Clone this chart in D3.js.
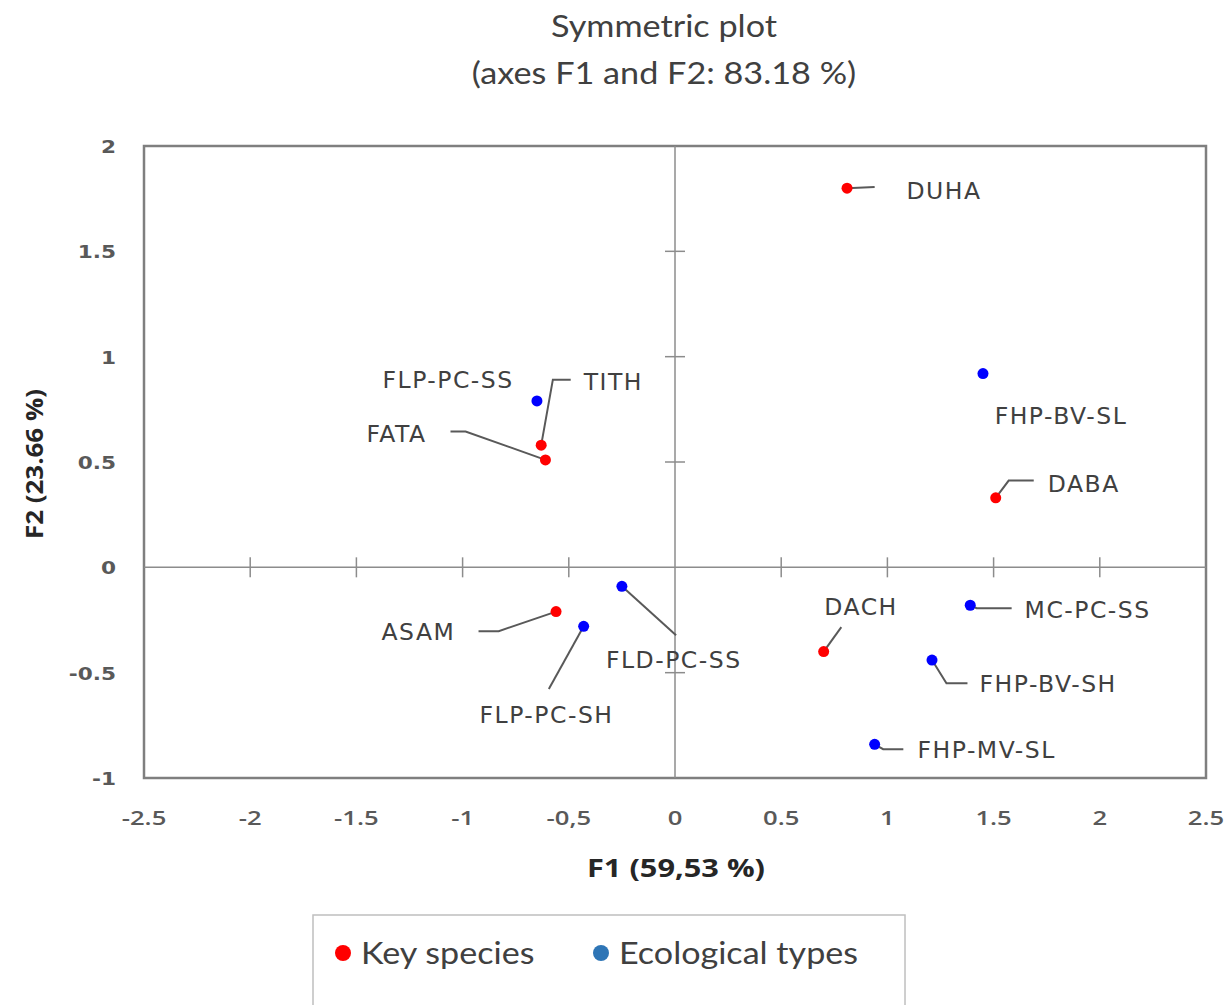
<!DOCTYPE html>
<html><head><meta charset="utf-8">
<script src="https://cdn.jsdelivr.net/npm/d3@7"></script>
<style>body{margin:0;background:#fff}svg{display:block}</style>
</head><body>
<script>
// ---- data ----
const names  = ["DUHA","DABA","TITH","FATA","ASAM","DACH","FHP-BV-SL","FLP-PC-SS","FLD-PC-SS","FLP-PC-SH","MC-PC-SS","FHP-BV-SH","FHP-MV-SL"];
const groups = ["Key species","Key species","Key species","Key species","Key species","Key species","Ecological types","Ecological types","Ecological types","Ecological types","Ecological types","Ecological types","Ecological types"];
const f1 = [0.81, 1.51, -0.63, -0.61, -0.56, 0.70, 1.45, -0.65, -0.25, -0.43, 1.39, 1.21, 0.94];
const f2 = [1.80, 0.33, 0.58, 0.51, -0.21, -0.40, 0.92, 0.79, -0.09, -0.28, -0.18, -0.44, -0.84];
const xTicks = [-2.5,-2,-1.5,-1,-0.5,0,0.5,1,1.5,2,2.5];
const xTickLabels = ["-2.5","-2","-1.5","-1","-0,5","0","0.5","1","1.5","2","2.5"];
const yTicks = [-1,-0.5,0,0.5,1,1.5,2];
const yTickLabels = ["-1","-0.5","0","0.5","1","1.5","2"];
const legendLabels = ["Key species","Ecological types"];
const legendColors = ["#ff0000","#2e75b6"];
const titleLines = ["Symmetric plot","(axes F1 and F2: 83.18 %)"];
const xTitle = "F1 (59,53 %)";
const yTitle = "F2 (23.66 %)";

// ---- label layout (data units): text anchor and leader bend points ----
const labelPos = {
  "DUHA":[1.09,1.79], "DABA":[1.755,0.40], "TITH":[-0.43,0.88], "FATA":[-1.453,0.635],
  "ASAM":[-1.382,-0.303], "DACH":[0.703,-0.185], "FHP-BV-SL":[1.505,0.72], "FLP-PC-SS":[-1.377,0.891],
  "FLD-PC-SS":[-0.325,-0.436], "FLP-PC-SH":[-0.92,-0.70], "MC-PC-SS":[1.646,-0.199],
  "FHP-BV-SH":[1.434,-0.55], "FHP-MV-SL":[1.142,-0.863]
};
const leaders = {
  "DUHA":[[0.94,1.805]],
  "DABA":[[1.571,0.412],[1.689,0.412]],
  "TITH":[[-0.575,0.891],[-0.491,0.891]],
  "FATA":[[-0.986,0.645],[-1.057,0.645]],
  "ASAM":[[-0.83,-0.303],[-0.925,-0.303]],
  "DACH":[[0.783,-0.284]],
  "FLD-PC-SS":[[0.005,-0.322]],
  "FLP-PC-SH":[[-0.594,-0.578]],
  "MC-PC-SS":[[1.42,-0.194],[1.585,-0.194]],
  "FHP-BV-SH":[[1.278,-0.55],[1.377,-0.55]],
  "FHP-MV-SL":[[0.98,-0.863],[1.075,-0.863]]
};

const W = 1230, H = 1005;
const svg = d3.select("body").append("svg").attr("width", W).attr("height", H);
const pl = {left:144, right:1206, top:146, bottom:778};
const x = d3.scaleLinear().domain([-2.5,2.5]).range([pl.left, pl.right]);
const y = d3.scaleLinear().domain([-1,2]).range([pl.bottom, pl.top]);
const color = d3.scaleOrdinal().domain(["Key species","Ecological types"]).range(["#ff0000","#0000ff"]);

// title
svg.selectAll("text.title").data(titleLines).join("text").attr("class","title")
  .attr("transform", (d,i)=> `translate(664,${37 + i*47}) scale(1.14,1)`)
  .attr("text-anchor","middle").attr("font-family","Lato, 'Open Sans', sans-serif")
  .attr("font-size", 30).attr("fill","#404040").text(d=>d);

// frame
svg.append("rect").attr("x", pl.left).attr("y", pl.top)
  .attr("width", pl.right-pl.left).attr("height", pl.bottom-pl.top)
  .attr("fill","none").attr("stroke","#7f7f7f").attr("stroke-width",2.5);

// zero axes with crossing ticks
const axG = svg.append("g").attr("stroke","#8c8c8c").attr("stroke-width",1.5);
axG.append("line").attr("x1",pl.left).attr("x2",pl.right).attr("y1",y(0)).attr("y2",y(0));
axG.append("line").attr("y1",pl.top).attr("y2",pl.bottom).attr("x1",x(0)).attr("x2",x(0));
axG.selectAll("line.xt").data(xTicks.filter(t=>t>-2.5 && t<2.5 && t!==0)).join("line").attr("class","xt")
  .attr("x1",d=>x(d)).attr("x2",d=>x(d)).attr("y1",y(0)-10).attr("y2",y(0)+10);
axG.selectAll("line.yt").data(yTicks.filter(t=>t>-1 && t<2 && t!==0)).join("line").attr("class","yt")
  .attr("y1",d=>y(d)).attr("y2",d=>y(d)).attr("x1",x(0)-10).attr("x2",x(0)+10);

// tick labels
svg.selectAll("text.xl").data(xTicks).join("text").attr("class","xl")
  .attr("transform", d=> `translate(${x(d)},825) scale(1.35,1)`).attr("text-anchor","middle")
  .attr("font-family","'Open Sans', sans-serif").attr("font-weight",600).attr("font-size",19)
  .attr("fill","#595959").text((d,i)=>xTickLabels[i]);
svg.selectAll("text.yl").data(yTicks).join("text").attr("class","yl")
  .attr("transform", d=> `translate(116,${y(d)+7}) scale(1.2,1)`).attr("text-anchor","end")
  .attr("font-family","'DejaVu Sans', sans-serif").attr("font-weight","bold").attr("font-size",18)
  .attr("fill","#595959").text((d,i)=>yTickLabels[i]);

// axis titles
svg.append("text").attr("transform","translate(676,877) scale(1.23,1)").attr("text-anchor","middle")
  .attr("font-family","'Open Sans', sans-serif").attr("font-weight","bold").attr("font-size",25)
  .attr("fill","#262626").text(xTitle);
svg.append("text").attr("transform","translate(43,464) rotate(-90) scale(1.08,1)").attr("text-anchor","middle")
  .attr("font-family","'Open Sans', sans-serif").attr("font-weight","bold").attr("font-size",24)
  .attr("fill","#262626").text(yTitle);

// data
const pts = names.map((n,i)=>({name:n, group:groups[i], x:f1[i], y:f2[i]}));
const line = d3.line().x(d=>x(d[0])).y(d=>y(d[1]));
svg.append("g").selectAll("path").data(pts.filter(p=>leaders[p.name])).join("path")
  .attr("d", p=> line([[p.x,p.y]].concat(leaders[p.name])))
  .attr("fill","none").attr("stroke","#595959").attr("stroke-width",2);
svg.append("g").selectAll("circle").data(pts).join("circle")
  .attr("cx",p=>x(p.x)).attr("cy",p=>y(p.y)).attr("r",5.5).attr("fill",p=>color(p.group));
svg.append("g").selectAll("text").data(pts).join("text")
  .attr("x",p=>x(labelPos[p.name][0])).attr("y",p=>y(labelPos[p.name][1])+8.5)
  .attr("font-family","'DejaVu Sans', sans-serif").attr("font-size",23.5).attr("letter-spacing",1.5)
  .attr("fill","#404040").text(p=>p.name);

// legend
svg.append("rect").attr("x",313).attr("y",915).attr("width",592).attr("height",120)
  .attr("fill","none").attr("stroke","#bfbfbf").attr("stroke-width",1.5);
const lg = svg.append("g").selectAll("g").data(legendLabels).join("g")
  .attr("transform",(d,i)=>`translate(${i===0?343:601},953)`);
lg.append("circle").attr("r",8).attr("fill",(d,i)=>legendColors[i]);
lg.append("text").attr("transform","translate(18,11) scale(1.1,1)").attr("font-family","Lato, 'Open Sans', sans-serif")
  .attr("font-size",31).attr("fill","#404040").text(d=>d);
</script>
</body></html>
